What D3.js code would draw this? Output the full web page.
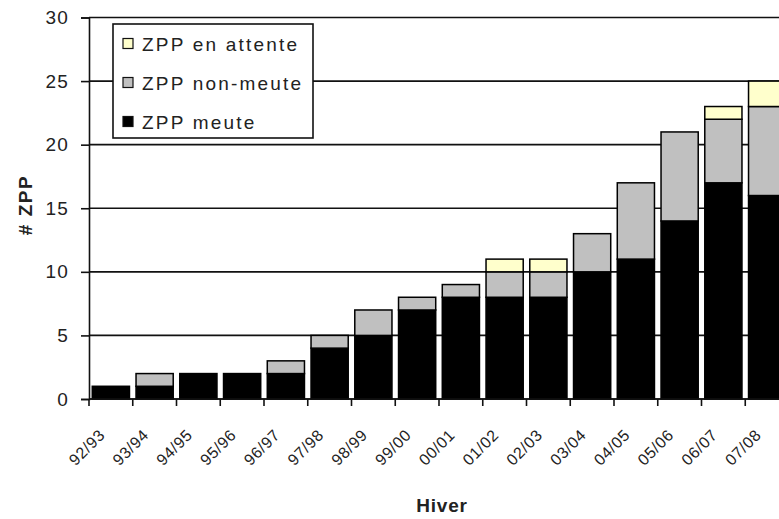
<!DOCTYPE html>
<html>
<head>
<meta charset="utf-8">
<script src="https://cdn.jsdelivr.net/npm/d3@7"></script>
<style>
  body { margin: 0; background: #fff; }
  svg text { font-family: "Liberation Sans", Arial, sans-serif; fill: #222; }
</style>
</head>
<body>
<div id="chart"></div>
<script>
// Chart data
const categories = ["92/93", "93/94", "94/95", "95/96", "96/97", "97/98", "98/99", "99/00",
                    "00/01", "01/02", "02/03", "03/04", "04/05", "05/06", "06/07", "07/08"];
const meute    = [1, 1, 2, 2, 2, 4, 5, 7, 8, 8, 8, 10, 11, 14, 17, 16];
const nonMeute = [0, 1, 0, 0, 1, 1, 2, 1, 1, 2, 2, 3, 6, 7, 5, 7];
const attente  = [0, 0, 0, 0, 0, 0, 0, 0, 0, 1, 1, 0, 0, 0, 1, 2];
const yTicks = [0, 5, 10, 15, 20, 25, 30];

const seriesKeys = ["meute", "nonMeute", "attente"];
const seriesLabels = { meute: "ZPP meute", nonMeute: "ZPP non-meute", attente: "ZPP en attente" };
const colors = { meute: "#000000", nonMeute: "#c0c0c0", attente: "#ffffcc" };

const width = 779;
const height = 519;
const plotLeft = 89, plotTop = 17.5, plotBottom = 399;

const svg = d3.select("#chart")
    .append("svg")
    .attr("width", width)
    .attr("height", height);

// rows for stacking
const rows = categories.map((c, i) => ({ cat: c, meute: meute[i], nonMeute: nonMeute[i], attente: attente[i] }));
const stacked = d3.stack().keys(seriesKeys)(rows);

// 16 categories, the last one runs past the right edge of the picture
const x = d3.scaleBand()
    .domain(categories)
    .range([plotLeft, plotLeft + 700])
    .paddingInner(0.15)
    .paddingOuter(0.075);

const y = d3.scaleLinear()
    .domain([0, 30])
    .range([plotBottom, plotTop]);

// gridlines
svg.append("g")
    .selectAll("line")
    .data(yTicks)
    .enter().append("line")
    .attr("x1", plotLeft)
    .attr("x2", width)
    .attr("y1", d => y(d))
    .attr("y2", d => y(d))
    .attr("stroke", "#111")
    .attr("stroke-width", 1.6);

// y axis
const yAxis = svg.append("g")
    .attr("transform", `translate(${plotLeft},0)`)
    .call(d3.axisLeft(y).tickValues(yTicks).tickSize(8).tickPadding(12));
yAxis.select(".domain").attr("stroke", "#111").attr("stroke-width", 1.6);
yAxis.selectAll(".tick line").attr("stroke", "#111").attr("stroke-width", 1.6);
yAxis.selectAll(".tick text")
    .style("font-size", "19px")
    .style("letter-spacing", "1.2px")
    .attr("fill", "#333");

// bars
svg.append("g")
    .selectAll("g")
    .data(stacked)
    .enter().append("g")
    .attr("fill", d => colors[d.key])
    .selectAll("rect")
    .data(d => d.filter(s => s[1] > s[0]))
    .enter().append("rect")
    .attr("x", d => x(d.data.cat))
    .attr("width", x.bandwidth())
    .attr("y", d => y(d[1]))
    .attr("height", d => y(d[0]) - y(d[1]))
    .attr("stroke", "#000")
    .attr("stroke-width", 1.5);

// x axis: baseline, ticks between categories, slanted labels
svg.append("line")
    .attr("x1", plotLeft).attr("x2", width)
    .attr("y1", plotBottom).attr("y2", plotBottom)
    .attr("stroke", "#111").attr("stroke-width", 1.6);

const step = x.step();
svg.append("g")
    .selectAll("line")
    .data(categories)
    .enter().append("line")
    .attr("x1", d => x(d) - step * x.paddingInner() / 2)
    .attr("x2", d => x(d) - step * x.paddingInner() / 2)
    .attr("y1", plotBottom)
    .attr("y2", plotBottom + 7)
    .attr("stroke", "#111")
    .attr("stroke-width", 1.6);

svg.append("g")
    .selectAll("text")
    .data(categories)
    .enter().append("text")
    .attr("transform", d => `translate(${x(d) + x.bandwidth() / 2 - 5},${plotBottom + 37}) rotate(-45)`)
    .attr("text-anchor", "end")
    .style("font-size", "16px")
    .style("letter-spacing", "0.6px")
    .attr("fill", "#444")
    .text(d => d);

// axis titles
svg.append("text")
    .attr("transform", "translate(32,205) rotate(-90)")
    .attr("text-anchor", "middle")
    .style("font-size", "19px")
    .style("font-weight", "bold")
    .style("letter-spacing", "1.5px")
    .text("# ZPP");

svg.append("text")
    .attr("x", 442)
    .attr("y", 512)
    .attr("text-anchor", "middle")
    .style("font-size", "19px")
    .style("font-weight", "bold")
    .style("letter-spacing", "0.8px")
    .text("Hiver");

// legend
const legend = svg.append("g").attr("transform", "translate(113,24)");
legend.append("rect")
    .attr("width", 200)
    .attr("height", 114)
    .attr("fill", "#fff")
    .attr("stroke", "#111")
    .attr("stroke-width", 1.6);

const legendKeys = ["attente", "nonMeute", "meute"];
const item = legend.selectAll("g.item")
    .data(legendKeys)
    .enter().append("g")
    .attr("class", "item")
    .attr("transform", (d, i) => `translate(0,${19.5 + i * 39})`);

item.append("rect")
    .attr("x", 10)
    .attr("y", -5)
    .attr("width", 10)
    .attr("height", 10)
    .attr("fill", d => colors[d])
    .attr("stroke", "#111")
    .attr("stroke-width", 1.2);

item.append("text")
    .attr("x", 29)
    .attr("y", 7)
    .style("font-size", "19px")
    .style("letter-spacing", "2.2px")
    .attr("fill", "#333")
    .text(d => seriesLabels[d]);
</script>
</body>
</html>
